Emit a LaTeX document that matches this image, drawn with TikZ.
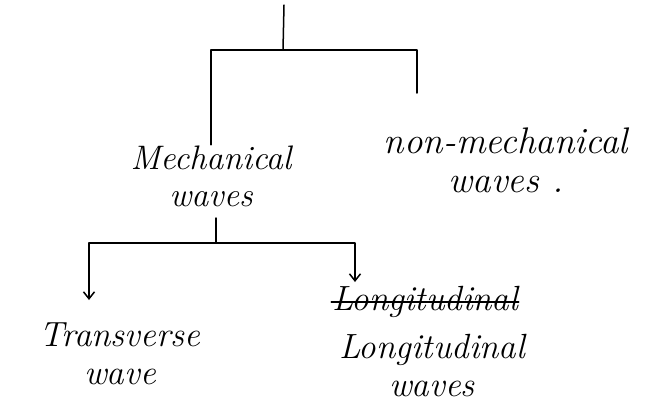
\documentclass[tikz,border=0pt]{standalone}
\usetikzlibrary{arrows.meta}
\begin{document}
\begin{tikzpicture}[x=1pt, y=-1pt, line width=1.5pt, line cap=round, line join=round,
  wavelabel/.style={inner sep=0pt, align=center, font=\fontsize{35}{38}\selectfont\itshape},
  downtip/.style={-{Straight Barb[length=7pt,width=11pt]}}]

  %% first level
  \coordinate (root) at (284,5);
  \coordinate (hub) at (283,50);
  \node[wavelabel, font=\fontsize{34}{37}\selectfont\itshape] (mech) at (211,176) {Mechanical\\waves};
  \node[wavelabel, font=\fontsize{37}{39}\selectfont\itshape] (nonmech) at (506,160) {non-mechanical\\waves .};
  \coordinate (nmfoot) at (417,93);

  \draw (root) -- (hub);
  \draw (hub) -| (mech.north);
  \draw (hub) -| (nmfoot);

  %% second level
  \coordinate (mechfoot) at (216,218);
  \coordinate (hub2) at (216,243);
  \coordinate (tvtip) at (89,300);
  \coordinate (lgtip) at (355,282);
  \node[wavelabel] (trans) at (120,354) {Transverse\\wave};
  \node[wavelabel] (strike) at (425,302) {Longitudinal};
  \node[wavelabel] (longi) at (432,366) {Longitudinal\\waves};

  \draw (mechfoot) -- (hub2);
  \draw[downtip] (hub2) -| (tvtip);
  \draw[downtip] (hub2) -| (lgtip);
  \draw (strike.west) -- (strike.east);

  \pgfresetboundingbox
  \path[use as bounding box] (0,0) rectangle (654,405);
\end{tikzpicture}
\end{document}
